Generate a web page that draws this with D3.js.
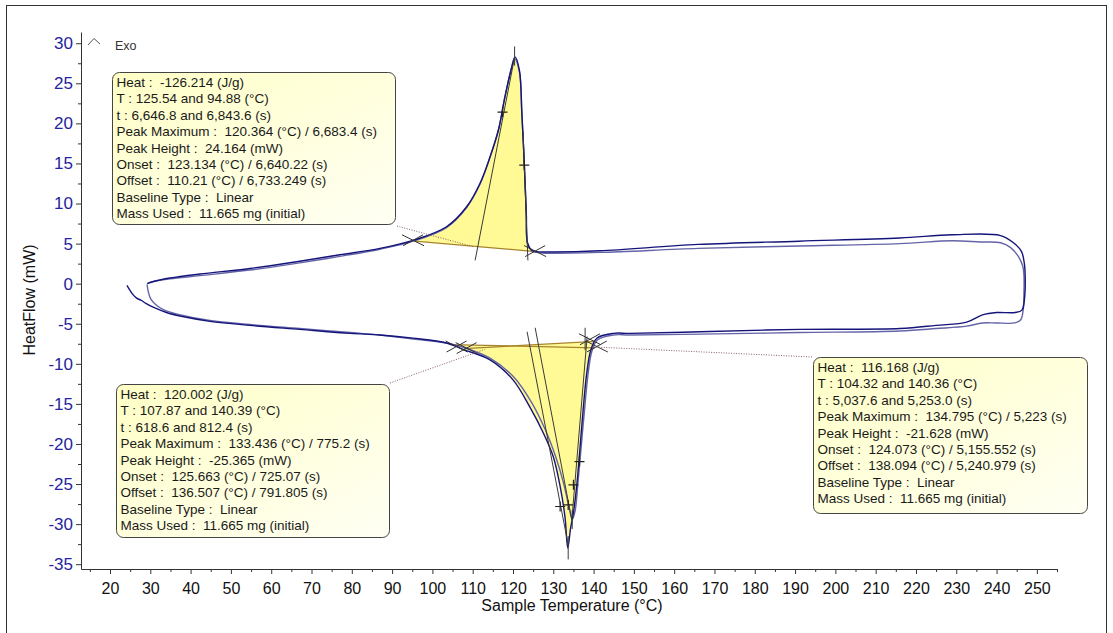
<!DOCTYPE html>
<html>
<head>
<meta charset="utf-8">
<script src="https://cdn.jsdelivr.net/npm/d3@7"></script>
<style>
body { margin: 0; background: #fff; }
svg { display: block; font-family: "Liberation Sans", Arial, sans-serif; }
.boxtext { white-space: pre; }
</style>
</head>
<body>
<script>
// ---- data: [Sample Temperature (°C), HeatFlow (mW)] ----
var heat1 = [[24.2,-0.2],[24.8,-0.7],[25.6,-1.3],[26.6,-1.8],[27.8,-2.1],[29,-2.5],[31,-3.0],[34,-3.6],[38,-4.1],
    [44.8,-4.7],[54.7,-5.2],[67.1,-5.7],[79.6,-6.2],[87,-6.4],[95.2,-6.8],[103.5,-7.4],[107.6,-8.2],[114.3,-9.5],
    [120,-12],[124.2,-15.4],[127.5,-18.6],[130,-21.6],[131.7,-25.3],[132.9,-29.1],[133.6,-33.0],[134.3,-30.5],
    [135,-28.6],[135.8,-25.3],[136.6,-20.7],[137.4,-15.8],[138.3,-11.2],[139.3,-8.3],[140.8,-6.8],[144.9,-6.2],
    [149,-6.2],[166.4,-6.0],[191.2,-5.7],[216,-5.6],[225,-5.2],[232.6,-4.8],[236.5,-3.9],[240,-3.6],[244.6,-3.6],
    [246.3,-3.3],[247,-1.5],[247.1,1.0],[246.9,2.5]];
var cool1 = [[246.2,4.0],[244.2,5.1],[241,6.0],[229,6.1],[216,5.7],[191,5.3],[166,4.9],[141.6,4.1],[130,3.95],
    [125.9,4.0],[124.6,4.2],[123.6,5.1],[123.3,8.8],[122.8,15],[122.2,21.3],[121.6,26.6],[120.5,28.3],[119.7,27],
    [118,23.3],[116.4,19.2],[114.3,15.8],[111.8,12.5],[108.5,9.6],[103.5,7.1],[95.2,5.4],[87,4.4],[77,3.6],
    [67.1,2.8],[54.7,1.9],[42.3,1.2],[34.9,0.7],[31,0.3],[29.2,0]];
var heat2 = [[29.2,-0.1],[29.5,-1.0],[30.1,-1.9],[31.3,-2.6],[33.5,-3.3],[37.5,-3.9],[44.8,-4.6],[54.7,-5.1],
    [67.1,-5.6],[79.6,-6.1],[87,-6.4],[95.2,-6.9],[103.5,-7.4],[108,-8.0],[114.3,-9.3],[120.3,-11.7],[124.6,-14.8],
    [128,-18.2],[130.6,-21.6],[132.4,-24.6],[133.8,-27.6],[134.7,-29.4],[135.4,-28.4],[136.1,-25],[136.9,-20.5],
    [137.8,-15.5],[138.7,-11],[139.6,-8.4],[141,-7.0],[144.9,-6.4],[149,-6.4],[166.4,-6.3],[191.2,-6.1],[216,-5.9],
    [225,-5.6],[232.6,-5.3],[236.5,-4.9],[240,-4.9],[244.5,-4.9],[246,-4.5],[246.6,-3.3],[246.8,-1],[246.8,1.0],
    [246.5,2.2]];
var cool2 = [[245.4,3.4],[243.5,4.5],[241,5.1],[236,5.2],[229,5.35],[216,5.0],[191,4.7],[166,4.4],[141.6,3.9],
    [128,3.8],[125.9,3.9],[124.6,4.1],[123.6,5.0],[123.3,8.8],[122.8,15],[122.2,21.3],[121.6,26.4],[120.4,28.1],
    [119.6,26.9],[118,23.3],[116.4,19.2],[114.3,15.8],[111.8,12.4],[108.5,9.5],[103.5,7.0],[95.2,5.3],[87,4.3],
    [77,3.4],[67.1,2.6],[54.7,1.7],[42.3,1.0],[34.9,0.6],[31,0.3],[29.5,0.1]];

// peak integration baselines: [T start, H start, T end, H end]
var exoBaseline = [94.88, 5.35, 125.54, 4.0];
var endoBaseline1 = [107.87, -8.1, 140.39, -7.2];
var endoBaseline2 = [104.32, -7.6, 140.36, -8.0];

// onset / offset tangents and peak markers: [T1, H1, T2, H2]
var tangents = [[110.6,2.9,120.3,28.0],[123.7,2.9,122.5,19.0],[123.5,-6.0,133.7,-32.6],[125.5,-5.5,134.6,-29.5],
    [138.4,-6.6,134.6,-29.5],[137.9,-5.5,137.9,-8.3]];
var peakMarks = [[120.4,27.2,120.4,29.6],[133.7,-31.5,133.7,-34.4],[134.7,-28.3,134.7,-30.6]];
var plusMarks = [[117.4,21.4],[122.8,14.8],[131.7,-27.8],[133.7,-27.6],[135,-25.1],[136.5,-22.2]];
var crossMarks = [[95.2,5.35],[125.5,4.0],[106,-7.9],[108.5,-8.1],[139.1,-7.0],[140.8,-7.9]];

var yTicks = d3.range(-35, 31, 5);
var xTicks = d3.range(20, 251, 10);

var box1Lines = ["Heat :  -126.214 (J/g)", "T : 125.54 and 94.88 (°C)", "t : 6,646.8 and 6,843.6 (s)",
    "Peak Maximum :  120.364 (°C) / 6,683.4 (s)", "Peak Height :  24.164 (mW)",
    "Onset :  123.134 (°C) / 6,640.22 (s)", "Offset :  110.21 (°C) / 6,733.249 (s)",
    "Baseline Type :  Linear", "Mass Used :  11.665 mg (initial)"];
var box2Lines = ["Heat :  120.002 (J/g)", "T : 107.87 and 140.39 (°C)", "t : 618.6 and 812.4 (s)",
    "Peak Maximum :  133.436 (°C) / 775.2 (s)", "Peak Height :  -25.365 (mW)",
    "Onset :  125.663 (°C) / 725.07 (s)", "Offset :  136.507 (°C) / 791.805 (s)",
    "Baseline Type :  Linear", "Mass Used :  11.665 mg (initial)"];
var box3Lines = ["Heat :  116.168 (J/g)", "T : 104.32 and 140.36 (°C)", "t : 5,037.6 and 5,253.0 (s)",
    "Peak Maximum :  134.795 (°C) / 5,223 (s)", "Peak Height :  -21.628 (mW)",
    "Onset :  124.073 (°C) / 5,155.552 (s)", "Offset :  138.094 (°C) / 5,240.979 (s)",
    "Baseline Type :  Linear", "Mass Used :  11.665 mg (initial)"];

// ---- layout ----
var W = 1113, H = 633;
var plot = { left: 81, right: 1057, top: 32, bottom: 569 };

var svg = d3.select('body').append('svg').attr('width', W).attr('height', H);

var x = d3.scaleLinear().domain([12.8, 255]).range([plot.left, plot.right]);
var y = d3.scaleLinear().domain([-35.6, 31.4]).range([plot.bottom, plot.top]);

// window frame
svg.append('rect').attr('x', 6.5).attr('y', 5.5).attr('width', 1100).attr('height', 640)
    .attr('fill', 'none').attr('stroke', '#333');

var defs = svg.append('defs');
var grad = defs.append('linearGradient').attr('id', 'boxfill')
    .attr('x1', 0).attr('y1', 0).attr('x2', 1).attr('y2', 1);
grad.append('stop').attr('offset', '0%').attr('stop-color', '#ffffc6');
grad.append('stop').attr('offset', '100%').attr('stop-color', '#fffff4');

// ---- axes ----
var hyphen = d => String(d);   // plain hyphen-minus like the original

var yAxis = svg.append('g').attr('transform', `translate(${plot.left},0)`)
    .call(d3.axisLeft(y).tickValues(yTicks).tickFormat(hyphen).tickSize(5).tickSizeOuter(0).tickPadding(3));
svg.append('g').attr('transform', `translate(${plot.left},0)`)
    .call(d3.axisLeft(y).tickValues(yTicks.map(d => d + 2.5).filter(d => d < 31)).tickSize(3).tickFormat('').tickSizeOuter(0))
    .select('.domain').remove();
yAxis.selectAll('text').attr('fill', '#2424a0').style('font-size', '17px').style('font-family', '"Liberation Sans", Arial, sans-serif');

var xAxis = svg.append('g').attr('transform', `translate(0,${plot.bottom})`)
    .call(d3.axisBottom(x).tickValues(xTicks).tickFormat(hyphen).tickSize(5).tickSizeOuter(0).tickPadding(9));
svg.append('g').attr('transform', `translate(0,${plot.bottom})`)
    .call(d3.axisBottom(x).tickValues(d3.range(15, 256, 10)).tickSize(3).tickFormat('').tickSizeOuter(0))
    .select('.domain').remove();
xAxis.selectAll('text').attr('fill', '#111').style('font-size', '16px').style('font-family', '"Liberation Sans", Arial, sans-serif');
svg.selectAll('.domain, .tick line').attr('stroke', '#333');

svg.append('text').attr('transform', 'translate(35,300) rotate(-90)').attr('text-anchor', 'middle')
    .style('font-size', '16px').attr('fill', '#111').text('HeatFlow (mW)');
svg.append('text').attr('x', 572).attr('y', 611).attr('text-anchor', 'middle')
    .style('font-size', '16px').attr('fill', '#111').text('Sample Temperature (°C)');

// Exo marker
svg.append('path').attr('d', 'M88,45 L94,38.5 L100,44').attr('fill', 'none').attr('stroke', '#555');
svg.append('text').attr('x', 115).attr('y', 50).style('font-size', '12.5px').attr('fill', '#333').text('Exo');

// ---- peak fills ----
var line = d3.line().x(d => x(d[0])).y(d => y(d[1])).curve(d3.curveCatmullRom.alpha(0.5));

function peakArea(curve, bl) {
    var pts = curve.filter(d => d[0] > bl[0] && d[0] < bl[2]);
    if (pts.length && pts[0][0] > pts[pts.length - 1][0]) pts = pts.slice().reverse();
    return [[bl[0], bl[1]]].concat(pts, [[bl[2], bl[3]]]);
}

var fills = [peakArea(cool2, exoBaseline), peakArea(heat1, endoBaseline1), peakArea(heat2, endoBaseline2)];
svg.append('g').selectAll('path').data(fills).enter().append('path')
    .attr('d', d => line(d) + 'Z').attr('fill', '#fffa96').attr('stroke', 'none');

svg.append('g').selectAll('line').data([exoBaseline, endoBaseline1, endoBaseline2]).enter().append('line')
    .attr('x1', d => x(d[0])).attr('y1', d => y(d[1])).attr('x2', d => x(d[2])).attr('y2', d => y(d[3]))
    .attr('stroke', '#a8842c').attr('stroke-width', 1.3);

// ---- curves ----
var cycles = [
    { pts: heat2.concat(cool2), color: '#6464a8' },
    { pts: heat1.concat(cool1), color: '#14147a' }
];
svg.append('g').selectAll('path').data(cycles).enter().append('path')
    .attr('d', d => line(d.pts)).attr('fill', 'none').attr('stroke', d => d.color).attr('stroke-width', 1.4);

// ---- analysis marks ----
svg.append('g').selectAll('line').data(tangents.concat(peakMarks)).enter().append('line')
    .attr('x1', d => x(d[0])).attr('y1', d => y(d[1])).attr('x2', d => x(d[2])).attr('y2', d => y(d[3]))
    .attr('stroke', '#3a3a3a').attr('stroke-width', 1);

var plus = svg.append('g').selectAll('g').data(plusMarks).enter().append('g')
    .attr('transform', d => `translate(${x(d[0])},${y(d[1])})`);
plus.append('path').attr('d', 'M-5,0H5M0,-5V5').attr('stroke', '#222').attr('stroke-width', 1.2);

var cross = svg.append('g').selectAll('g').data(crossMarks).enter().append('g')
    .attr('transform', d => `translate(${x(d[0])},${y(d[1])})`);
cross.append('path').attr('d', 'M-11,-6L11,5M-10,5L10,-6').attr('stroke', '#333').attr('stroke-width', 1);

// ---- annotation boxes ----
var boxes = [
    { lines: box1Lines, x0: 112, y0: 72, x1: 395, y1: 224, lead: [397, 226], to: [110.2, 4.6] },
    { lines: box2Lines, x0: 116, y0: 384, x1: 389, y1: 537, lead: [390, 383], to: [113, -8.2] },
    { lines: box3Lines, x0: 813, y0: 357, x1: 1087, y1: 513, lead: [812, 357], to: [140.2, -7.9] }
];

svg.append('g').selectAll('line').data(boxes).enter().append('line')
    .attr('x1', d => d.lead[0]).attr('y1', d => d.lead[1])
    .attr('x2', d => x(d.to[0])).attr('y2', d => y(d.to[1]))
    .attr('stroke', '#8a6060').attr('stroke-dasharray', '1,1.5');

var bg = svg.append('g').selectAll('g').data(boxes).enter().append('g');
bg.append('rect').attr('x', d => d.x0 + 0.5).attr('y', d => d.y0 + 0.5)
    .attr('width', d => d.x1 - d.x0).attr('height', d => d.y1 - d.y0)
    .attr('rx', 7).attr('fill', 'url(#boxfill)').attr('stroke', '#444');
bg.each(function(d) {
    d3.select(this).selectAll('text').data(d.lines).enter().append('text')
        .attr('class', 'boxtext')
        .attr('x', d.x0 + 4.5).attr('y', (t, i) => d.y0 + 15 + i * 16.4)
        .style('font-size', '13.5px').attr('fill', '#1a1a1a').text(t => t);
});
</script>
</body>
</html>
